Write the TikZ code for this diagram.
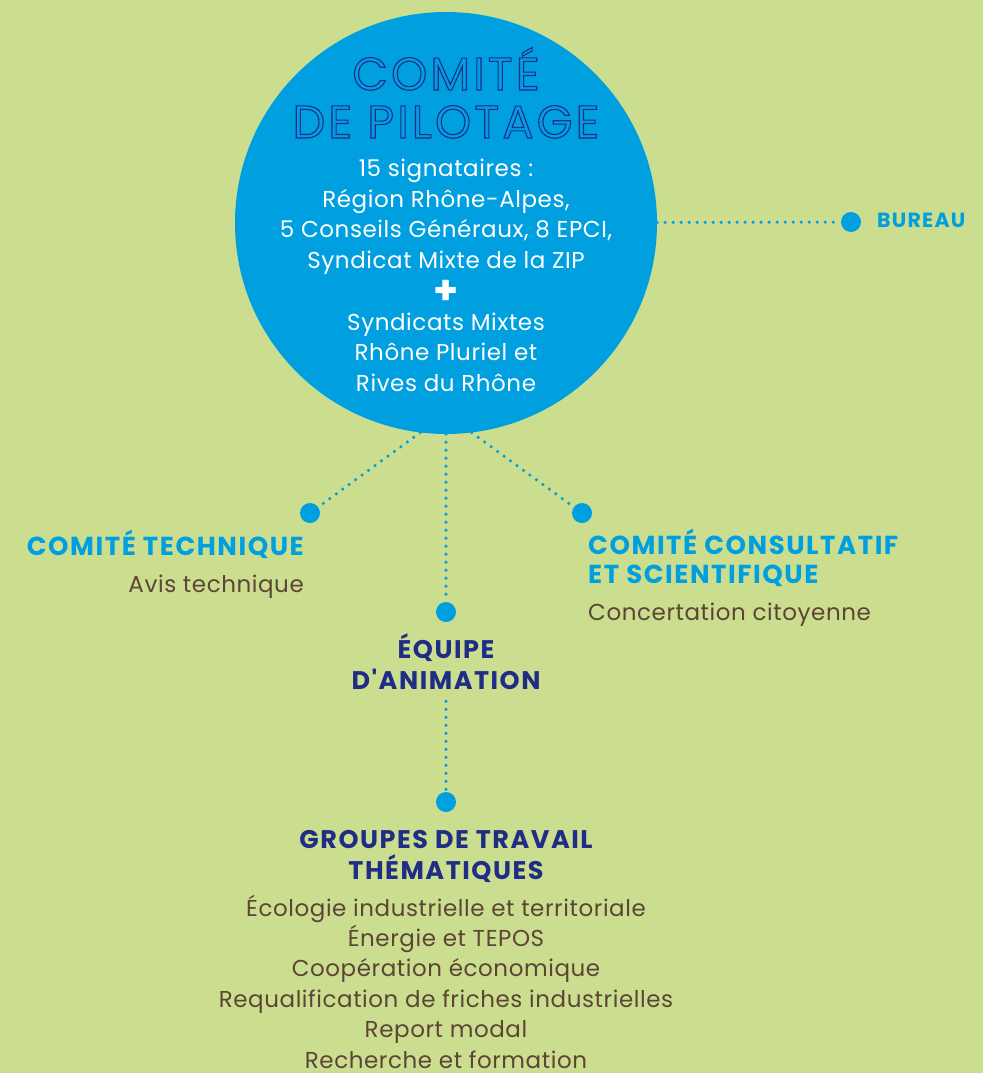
\documentclass[tikz,border=0pt]{standalone}
\usepackage{fontspec}
\setmainfont{Poppins}
\newfontfamily\titrefont[LetterSpace=7]{Poppins}
\newfontfamily\textefont[LetterSpace=2.5]{Poppins}
\newfontfamily\entetefont[LetterSpace=6]{Poppins}
\usepackage{xcolor}
\definecolor{copilFond}{HTML}{CBDD8E}
\definecolor{copilBleu}{HTML}{009FE0}
\definecolor{copilMarine}{HTML}{1F2D86}
\definecolor{copilBrun}{HTML}{5C4536}
\usetikzlibrary{positioning}
% texte en contour (mode de rendu PDF 1)
\newcommand{\evide}[1]{\special{pdf:literal direct 1 Tr 1.1 w}#1\special{pdf:literal direct 0 Tr}}
\tikzset{
    pilotage/.style={
        circle,
        fill=copilBleu,
        minimum size=422pt,
        inner sep=0pt
    },
    titre/.style={
        align=center,
        inner sep=0pt,
        text=copilMarine,
        font=\titrefont\fontsize{46}{48}\selectfont
    },
    membres/.style={
        align=center,
        inner sep=0pt,
        text=white,
        font=\textefont\fontsize{23}{30.5}\selectfont
    },
    point/.style={
        circle,
        fill=copilBleu,
        minimum size=20pt,
        inner sep=0pt
    },
    titreclair/.style={
        inner sep=0pt,
        text=copilBleu,
        font=\entetefont\bfseries\fontsize{26}{28.5}\selectfont
    },
    titrefonce/.style={
        align=center,
        inner sep=0pt,
        text=copilMarine,
        font=\entetefont\bfseries\fontsize{25.5}{30.5}\selectfont
    },
    texte/.style={
        inner sep=0pt,
        text=copilBrun,
        font=\textefont\fontsize{23}{30.4}\selectfont
    },
    pointille/.style={
        draw=copilBleu,
        line width=3.5pt,
        line cap=round,
        dash pattern=on 0pt off 8pt
    }
}

\begin{document}
\begin{tikzpicture}[x=1pt,y=-1pt]
    \fill[copilFond] (0,0) rectangle (983,1073);
    \useasboundingbox (0,0) rectangle (983,1073);

    \node[pilotage] (copil) at (446,223) {};
    \node[titre, anchor=base] (titrecopil) at (446,138) {\evide{COMITÉ\\DE PILOTAGE}};
    \node[membres, anchor=base] (signataires) at (446,268)
        {15 signataires :\\Région Rhône-Alpes,\\5 Conseils Généraux, 8 EPCI,\\Syndicat Mixte de la ZIP};
    \node[membres, font=\bfseries\fontsize{40}{40}\selectfont, text height=24pt, text depth=0pt, anchor=base] (ajout) at (446,304) {+};
    \node[membres, anchor=base] (syndicats) at (446,391)
        {Syndicats Mixtes\\Rhône Pluriel et\\Rives du Rhône};

    \node[point] (ptbureau) at (851,222) {};
    \node[point] (pttech) at (310,513) {};
    \node[point] (ptconsult) at (582,513) {};
    \node[point] (ptequipe) at (446,612) {};
    \node[point] (ptgroupes) at (446,802) {};

    \node[titreclair, font=\entetefont\bfseries\fontsize{20.5}{24}\selectfont, anchor=base west] (bureau) at (877,227) {BUREAU};
    \node[titreclair, anchor=base east] (technique) at (304,555) {COMITÉ TECHNIQUE};
    \node[texte, anchor=base east] (avis) at (304,592) {Avis technique};
    \node[titreclair, align=left, anchor=base west] (consultatif) at (588,583)
        {COMITÉ CONSULTATIF\\ET SCIENTIFIQUE};
    \node[texte, anchor=base west] (concertation) at (588,620) {Concertation citoyenne};
    \node[titrefonce, anchor=base] (equipe) at (446,689) {ÉQUIPE\\D'ANIMATION};
    \node[titrefonce, anchor=base] (groupes) at (446,879) {GROUPES DE TRAVAIL\\THÉMATIQUES};
    \node[texte, align=center, anchor=base] (themes) at (446,1068)
        {Écologie industrielle et territoriale\\Énergie et TEPOS\\Coopération économique\\Requalification de friches industrielles\\Report modal\\Recherche et formation};

    \draw[pointille] (copil) -- (ptbureau);
    \draw[pointille] (copil.-97) -- (pttech);
    \draw[pointille] (copil.south) -- (ptequipe);
    \draw[pointille] (copil.-83) -- (ptconsult);
    \draw[pointille, shorten <=12pt] (equipe) -- (ptgroupes);
\end{tikzpicture}
\end{document}
